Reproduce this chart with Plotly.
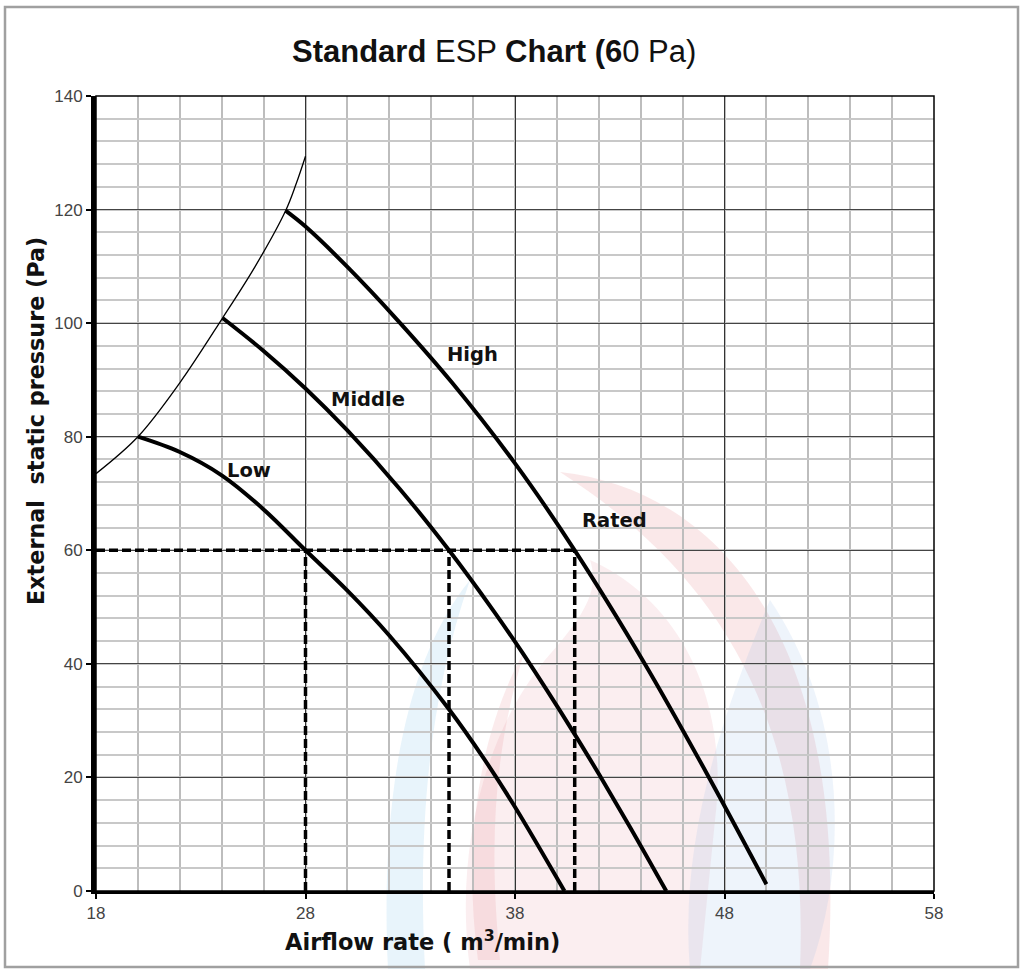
import plotly.graph_objects as go

# ---------------- data ----------------
low_x = [20, 22, 24, 26, 28, 30, 32, 34.83, 36.5, 38, 40.36]
low_y = [80, 77.3, 73.2, 67.2, 60, 52.9, 45.0, 32.1, 23.4, 14.8, 0]

middle_x = [24.04, 26, 28, 30, 32.5, 34.85, 37, 38.4, 40.8, 42.1, 43.5, 45.22]
middle_y = [100.9, 95.1, 88.5, 81.1, 70.8, 60, 49.2, 41.7, 27.9, 20, 11.2, 0]

high_x = [27.05, 28, 30, 32.4, 35, 38, 40.85, 44.15, 47.2, 50.0]
high_y = [119.8, 117, 109.9, 100.5, 89.5, 75.3, 60, 40.3, 20.4, 1.2]

limit_x = [18, 20, 22, 24.04, 25.6, 27.05, 27.55, 28]
limit_y = [73.5, 80, 89.5, 100.9, 110, 119.8, 124.5, 129.4]

rated_pressure = 60
rated_airflow = [28, 34.85, 40.85]

x_ticks = [18, 28, 38, 48, 58]
y_ticks = [0, 20, 40, 60, 80, 100, 120, 140]

# ---------------- layout geometry ----------------
W, H = 1026, 969
L, R, T, B = 96, 92, 96, 78
PW, PH = W - L - R, H - T - B


def px(x):
    return (x - L) / PW


def py(y):
    return (H - B - y) / PH


fig = go.Figure()

# thin limit curve
fig.add_trace(go.Scatter(x=limit_x, y=limit_y, mode="lines",
                         line=dict(color="black", width=1.3, shape="spline", smoothing=1.0),
                         hoverinfo="skip", showlegend=False))

for xs, ys in [(low_x, low_y), (middle_x, middle_y), (high_x, high_y)]:
    fig.add_trace(go.Scatter(x=xs, y=ys, mode="lines",
                             line=dict(color="black", width=4, shape="spline", smoothing=1.0),
                             showlegend=False))

# rated dashed lines
dash_style = dict(color="black", width=3.5, dash="9px,4px")
fig.add_trace(go.Scatter(x=[x_ticks[0], max(rated_airflow)], y=[rated_pressure, rated_pressure],
                         mode="lines", line=dash_style, showlegend=False))
for xa in rated_airflow:
    fig.add_trace(go.Scatter(x=[xa, xa], y=[0, rated_pressure], mode="lines",
                             line=dash_style, showlegend=False))


# ---------------- watermark (faint flame logo) ----------------
def path(points_cmds):
    out = []
    for item in points_cmds:
        if isinstance(item, str):
            out.append(item)
        else:
            out.append(f"{px(item[0]):.4f},{py(item[1]):.4f}")
    return " ".join(out)


wm = [
    # large pink flame body
    (["M", (590, 560), "C", (680, 600), (730, 700), (715, 820), "L", (700, 969),
      "L", (470, 969), "C", (455, 860), (480, 740), (545, 660), "C", (585, 615), (600, 590), (590, 560), "Z"],
     "rgba(228,150,160,0.16)"),
    # red outer crescent
    (["M", (560, 472), "C", (720, 490), (850, 640), (828, 969), "L", (800, 969),
      "C", (810, 720), (720, 575), (560, 472), "Z"],
     "rgba(225,110,120,0.16)"),
    # right blue drop
    (["M", (770, 600), "C", (845, 710), (850, 860), (810, 969), "L", (690, 969),
      "C", (680, 850), (715, 730), (770, 600), "Z"],
     "rgba(150,185,230,0.16)"),
    # left blue crescent
    (["M", (470, 580), "C", (405, 660), (380, 800), (388, 969), "L", (425, 969),
      "C", (418, 830), (428, 700), (470, 580), "Z"],
     "rgba(140,200,235,0.2)"),
    # inner red streak
    (["M", (525, 650), "C", (480, 730), (462, 840), (478, 960), "L", (500, 960),
      "C", (488, 840), (495, 745), (525, 650), "Z"],
     "rgba(225,110,120,0.14)"),
]
shapes = []
for cmds, col in wm:
    shapes.append(dict(type="path", xref="paper", yref="paper", path=path(cmds),
                       fillcolor=col, line=dict(width=0), layer="below"))

# plot frame (top/right thin border)
shapes.append(dict(type="rect", xref="paper", yref="paper", x0=0, y0=0, x1=1, y1=1,
                   line=dict(color="black", width=1.5), layer="above"))
# outer gray frame of the picture
shapes.append(dict(type="rect", xref="paper", yref="paper",
                   x0=px(5), x1=px(1018), y0=py(967), y1=py(7),
                   line=dict(color="#a0a0a0", width=2.5), layer="below"))

label_font = dict(family="DejaVu Sans", size=19.5, color="#111111")
annotations = [
    dict(x=25.3, y=74.0, text="<b>Low</b>", showarrow=False, font=label_font),
    dict(x=30.98, y=86.5, text="<b>Middle</b>", showarrow=False, font=label_font),
    dict(x=35.98, y=94.4, text="<b>High</b>", showarrow=False, font=label_font),
    dict(x=42.73, y=65.3, text="<b>Rated</b>", showarrow=False, font=label_font),
    # title
    dict(xref="paper", yref="paper", x=px(494), y=py(51), xanchor="center", yanchor="middle",
         text="<b>Standard</b> ESP <b>Chart (6</b>0 Pa)", showarrow=False,
         font=dict(family="Liberation Sans, Arial", size=31, color="#111111")),
    # axis titles
    dict(xref="paper", yref="paper", x=px(422), y=py(940), xanchor="center", yanchor="middle",
         text="<b>Airflow rate ( m<sup>3</sup>/min)</b>", showarrow=False,
         font=dict(family="DejaVu Sans", size=22.5, color="#111111")),
    dict(xref="paper", yref="paper", x=px(36), y=py(421), xanchor="center", yanchor="middle",
         text="<b>External\u00a0 static pressure (Pa)</b>", textangle=-90, showarrow=False,
         font=dict(family="DejaVu Sans", size=22.3, color="#111111")),
]

fig.update_layout(
    width=W, height=H,
    margin=dict(l=L, r=R, t=T, b=B, pad=0),
    paper_bgcolor="white", plot_bgcolor="rgba(255,255,255,0)",
    shapes=shapes, annotations=annotations, showlegend=False,
    font=dict(family="Liberation Sans, Arial", size=17, color="#444444"),
)

fig.update_xaxes(range=[x_ticks[0], x_ticks[-1]], tickmode="array", tickvals=x_ticks,
                 ticktext=[str(v) for v in x_ticks],
                 showgrid=True, gridcolor="#333333", gridwidth=1.2,
                 minor=dict(dtick=2, tick0=18, showgrid=True, gridcolor="#bdbdbd", gridwidth=1.8),
                 showline=True, linecolor="black", linewidth=3,
                 ticks="outside", ticklen=5, tickwidth=2, tickcolor="black",
                 tickfont=dict(size=17, color="#444444"), zeroline=False, fixedrange=True)
fig.update_yaxes(range=[y_ticks[0], y_ticks[-1]], tickmode="array", tickvals=y_ticks,
                 ticktext=[str(v) for v in y_ticks],
                 showgrid=True, gridcolor="#444444", gridwidth=1.2,
                 minor=dict(dtick=4, tick0=0, showgrid=True, gridcolor="#c8c8c8", gridwidth=1.8),
                 showline=True, linecolor="black", linewidth=5,
                 ticks="outside", ticklen=5, tickwidth=2, tickcolor="black",
                 tickfont=dict(size=17, color="#444444"), zeroline=False, fixedrange=True)

fig.write_html("out.html", config={"displayModeBar": False},
               post_script="document.body.style.margin='0px';")
